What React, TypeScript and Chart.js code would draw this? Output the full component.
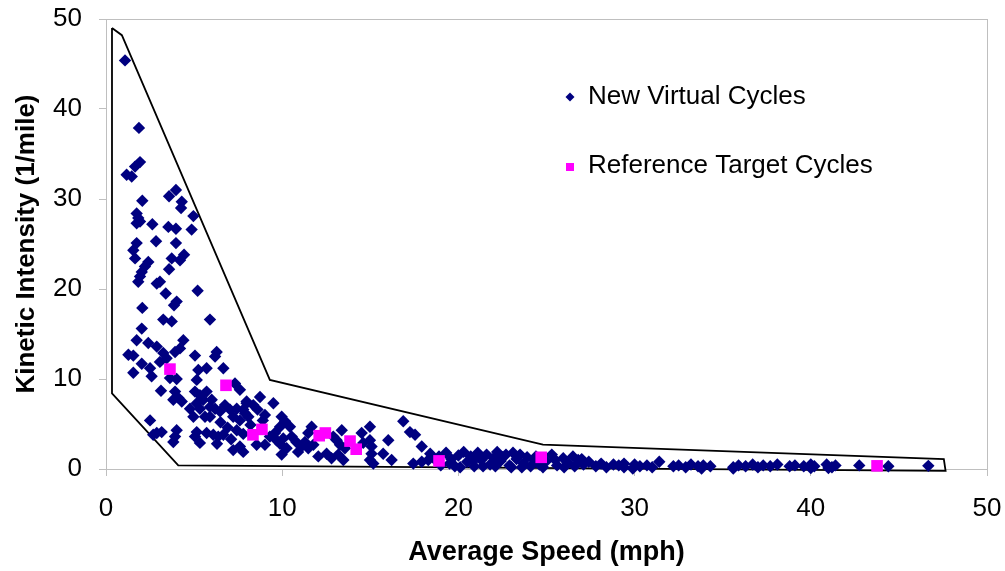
import { useEffect, useRef } from "react";
import { Chart, registerables } from "chart.js";

Chart.register(...registerables);

const FONT = '"Liberation Sans", Arial, Helvetica, sans-serif';
const NAVY = "#000080";
const MAGENTA = "#FF00FF";
const AXIS_GRAY = "#BFBFBF";

// Axis ranges and tick spacing (mph / 1/mile)
const speedRange = [0, 50];
const intensityRange = [0, 50];
const tickStep = 10;

// Generated driving cycles: [average speed (mph), kinetic intensity (1/mile)]
const newVirtualCycles: [number, number][] = [
  [1.08, 45.4], [1.87, 37.9], [1.93, 34.1], [1.65, 33.6], [1.17, 32.7], [1.46, 32.5],
  [3.97, 31.0], [3.58, 30.3], [4.3, 29.7], [4.26, 29.0], [2.06, 29.8],
  [1.74, 28.4], [1.83, 27.9], [1.93, 27.5], [1.74, 27.3], [4.96, 28.1], [2.63, 27.2],
  [3.54, 26.9], [3.97, 26.7], [4.86, 26.6], [2.84, 25.3], [1.74, 25.1], [1.55, 24.3],
  [1.65, 23.4], [3.97, 25.1], [3.73, 23.4], [4.2, 23.2], [4.43, 23.8], [2.4, 23.0],
  [2.21, 22.5], [2.03, 21.9], [1.93, 21.4], [1.83, 20.8], [3.58, 22.2], [2.88, 20.6],
  [3.06, 20.8], [3.39, 19.5], [5.2, 19.8], [4.01, 18.6], [3.86, 18.2], [2.06, 17.9],
  [3.25, 16.6], [3.73, 16.4], [5.9, 16.6], [2.03, 15.6],
  [1.74, 14.3], [2.4, 14.0], [2.88, 13.6], [4.39, 14.3], [4.2, 13.4], [3.92, 13.0],
  [1.27, 12.7], [1.55, 12.6], [3.25, 12.9], [3.44, 12.3], [3.06, 11.9], [5.05, 12.6],
  [6.28, 13.0], [6.19, 12.5], [2.03, 11.7], [2.5, 11.2], [2.59, 10.3], [1.55, 10.7],
  [5.24, 11.0], [5.71, 11.2], [5.15, 9.9], [6.66, 11.2], [3.63, 10.1], [4.01, 10.0],
  [3.12, 8.7], [7.32, 9.5], [7.6, 8.8], [3.92, 8.6], [4.11, 7.9], [4.3, 7.5], [3.82, 7.7],
  [5.05, 8.6], [5.33, 8.2], [5.71, 8.6], [5.52, 7.7], [5.15, 7.3], [4.77, 6.7], [4.96, 5.8],
  [5.33, 6.7], [6.0, 7.7], [5.9, 6.9], [6.19, 6.7], [6.47, 6.4], [5.9, 5.8],
  [6.75, 7.1], [7.04, 6.6], [7.42, 6.7], [7.98, 7.3], [7.89, 6.2], [7.22, 5.8],
  [2.5, 5.4], [2.88, 4.0], [3.16, 4.1], [2.68, 3.8], [4.01, 4.3], [3.92, 3.6], [3.82, 3.0],
  [5.15, 4.1], [5.05, 3.6], [5.33, 2.9], [5.71, 4.0], [6.09, 3.8], [6.37, 3.6], [6.66, 3.8],
  [5.62, 5.8], [7.42, 4.3], [7.6, 2.5], [7.79, 1.9], [7.22, 2.1], [7.79, 3.9],
  [6.5, 5.2], [6.9, 4.6], [7.1, 3.3], [8.2, 4.9], [8.9, 5.4], [9.3, 3.6], [8.6, 6.6],
  [10.8, 3.0], [10.9, 1.9], [6.3, 2.8],
  [8.74, 8.0], [8.36, 7.1], [7.98, 7.5], [9.5, 7.3], [9.02, 6.0], [7.79, 6.6], [8.08, 5.8],
  [7.6, 5.4], [9.97, 5.8], [10.16, 5.3], [9.88, 4.7], [10.44, 4.7],
  [8.55, 2.7], [9.02, 2.7], [9.59, 4.0], [9.68, 3.2], [9.88, 2.8], [10.06, 3.4],
  [10.54, 3.6], [10.25, 2.3], [9.97, 1.6], [11.67, 4.7], [11.48, 4.0], [11.29, 3.0],
  [11.1, 2.5], [11.48, 2.3], [11.77, 2.7], [12.05, 1.4], [12.52, 1.7], [12.8, 1.2],
  [13.18, 1.6], [13.47, 1.0], [12.9, 3.6], [13.38, 4.3], [13.09, 3.2], [13.28, 2.7],
  [13.56, 2.3], [14.51, 4.0], [14.98, 4.7], [14.6, 2.9], [14.98, 3.2], [15.07, 2.5],
  [15.07, 1.7], [14.98, 1.0], [15.17, 0.6], [16.02, 3.2], [15.73, 1.7], [16.21, 1.0],
  [16.87, 5.3], [17.25, 4.1], [17.54, 3.8], [17.92, 2.5], [17.44, 0.6], [17.92, 0.8],
  [18.29, 1.0],
  [18.4, 1.7], [18.7, 1.0], [19.0, 0.4], [19.3, 1.8], [19.6, 1.1], [19.8, 0.3], [20.0, 1.5],
  [20.3, 1.9], [20.5, 0.8], [20.7, 1.4], [20.9, 0.3], [21.1, 1.8], [21.3, 1.0], [21.6, 1.6],
  [21.8, 0.5], [22.0, 1.2], [22.2, 1.9], [22.4, 0.9], [22.7, 1.6], [22.9, 0.4], [23.1, 1.8],
  [23.3, 1.1], [23.5, 1.6], [23.7, 0.6], [23.9, 1.3], [24.1, 0.3], [24.3, 1.0], [24.6, 0.5],
  [25.0, 0.9], [25.3, 1.6], [25.6, 0.4], [25.95, 1.2], [26.2, 0.7], [26.5, 1.4], [26.8, 1.0],
  [27.1, 0.5], [27.4, 0.8], [27.8, 0.3], [28.1, 0.6], [28.4, 0.2], [28.8, 0.5], [29.1, 0.4],
  [29.4, 0.6], [29.4, 0.2], [18.9, 1.4], [19.5, 0.6], [20.1, 0.2], [20.9, 1.0], [21.4, 0.3],
  [22.1, 0.3], [22.5, 1.3], [23.0, 0.2], [23.6, 0.2], [24.4, 1.4], [24.8, 0.2], [25.5, 1.0],
  [26.0, 0.2], [26.6, 0.3], [27.0, 1.1],
  [30.0, 0.5], [30.3, 0.3], [30.7, 0.4], [31.0, 0.2], [31.4, 0.8], [32.2, 0.3], [32.5, 0.4],
  [32.9, 0.2], [33.2, 0.5], [33.6, 0.3], [33.9, 0.4], [34.3, 0.3], [35.6, 0.2], [35.9, 0.4],
  [36.3, 0.3], [36.7, 0.5], [37.0, 0.2], [37.3, 0.4], [37.7, 0.3], [38.1, 0.5], [38.8, 0.3],
  [39.1, 0.4], [39.6, 0.3], [40.0, 0.5], [40.2, 0.3], [40.9, 0.5], [41.2, 0.2], [41.4, 0.4],
  [42.75, 0.4], [44.4, 0.3], [46.67, 0.35], [29.9, 0.05], [33.8, 0.05], [35.6, 0.05],
  [40.0, 0.1], [41.0, 0.1],
];

// Standard reference cycles
const referenceTargetCycles: [number, number][] = [
  [3.63, 11.1], [6.81, 9.3], [8.34, 3.8], [8.85, 4.4], [12.1, 3.7], [12.45, 4.0],
  [13.85, 3.1], [14.2, 2.2], [18.9, 0.9], [24.7, 1.3], [43.76, 0.35],
];

// Boundary enclosing the generated cycles (closed polygon)
const boundaryPolygon: [number, number][] = [
  [0.34, 49.0], [0.9, 48.2], [9.3, 9.9], [24.8, 2.7], [47.55, 1.1], [47.65, -0.2],
  [4.1, 0.4], [0.34, 8.4], [0.34, 49.0],
];

const toPoints = (arr: [number, number][]) => arr.map(([x, y]) => ({ x, y }));

const plotFrame = {
  id: "plotFrame",
  beforeDatasetsDraw(chart: any) {
    const { ctx, chartArea } = chart;
    ctx.save();
    ctx.strokeStyle = AXIS_GRAY;
    ctx.lineWidth = 1;
    ctx.strokeRect(
      Math.round(chartArea.left) + 0.5,
      Math.round(chartArea.top) + 0.5,
      Math.round(chartArea.right - chartArea.left),
      Math.round(chartArea.bottom - chartArea.top)
    );
    ctx.restore();
  },
};

const insideLegend = {
  id: "insideLegend",
  afterDatasetsDraw(chart: any) {
    const { ctx } = chart;
    const rows = [
      { ds: chart.data.datasets[0], cy: 97, baseline: 104 },
      { ds: chart.data.datasets[1], cy: 167, baseline: 173 },
    ];
    ctx.save();
    for (const r of rows) {
      const mx = 570;
      ctx.fillStyle = r.ds.backgroundColor;
      if (r.ds.pointStyle === "rectRot") {
        const h = 4.5;
        ctx.beginPath();
        ctx.moveTo(mx, r.cy - h);
        ctx.lineTo(mx + h, r.cy);
        ctx.lineTo(mx, r.cy + h);
        ctx.lineTo(mx - h, r.cy);
        ctx.closePath();
        ctx.fill();
      } else {
        ctx.fillRect(mx - 4, r.cy - 4, 8, 8);
      }
      ctx.fillStyle = "#000";
      ctx.font = `26px ${FONT}`;
      ctx.textAlign = "left";
      ctx.textBaseline = "alphabetic";
      ctx.fillText(r.ds.label, 588, r.baseline);
    }
    ctx.restore();
  },
};

export default function App() {
  const canvasRef = useRef<HTMLCanvasElement | null>(null);

  useEffect(() => {
    const canvas = canvasRef.current;
    if (!canvas) return;
    const chart = new Chart(canvas, {
      type: "scatter",
      data: {
        datasets: [
          {
            label: "New Virtual Cycles",
            data: toPoints(newVirtualCycles),
            pointStyle: "rectRot",
            pointRadius: 6.2,
            borderWidth: 0,
            backgroundColor: NAVY,
            borderColor: NAVY,
            order: 2,
            clip: false,
          } as any,
          {
            label: "Reference Target Cycles",
            data: toPoints(referenceTargetCycles),
            pointStyle: "rect",
            pointRadius: 8.2,
            borderWidth: 0,
            backgroundColor: MAGENTA,
            borderColor: MAGENTA,
            order: 1,
            clip: false,
          } as any,
          {
            label: "Boundary",
            data: toPoints(boundaryPolygon),
            showLine: true,
            pointRadius: 0,
            borderColor: "#000000",
            backgroundColor: "#000000",
            borderWidth: 1.8,
            tension: 0,
            order: 3,
            clip: false,
          } as any,
        ],
      },
      options: {
        responsive: false,
        animation: false,
        events: [],
        layout: { padding: { left: 0, right: 18, top: 19, bottom: 0 } },
        plugins: {
          legend: { display: false },
          tooltip: { enabled: false },
        },
        scales: {
          x: {
            type: "linear",
            min: speedRange[0],
            max: speedRange[1],
            afterFit: (scale: any) => {
              scale.height = 102;
              scale.paddingLeft = 0;
              scale.paddingRight = 0;
            },
            ticks: {
              stepSize: tickStep,
              autoSkip: false,
              maxRotation: 0,
              padding: 17,
              color: "#000",
              font: { family: FONT, size: 26 },
            },
            grid: {
              drawOnChartArea: false,
              drawTicks: true,
              tickLength: 7,
              color: AXIS_GRAY,
            },
            border: { display: true, color: AXIS_GRAY },
            title: {
              display: true,
              text: "Average Speed (mph)",
              color: "#000",
              font: { family: FONT, size: 27, weight: "bold" },
              padding: { top: 0, bottom: 2 },
            },
          },
          y: {
            type: "linear",
            min: intensityRange[0],
            max: intensityRange[1],
            afterFit: (scale: any) => {
              scale.width = 106;
              scale.paddingTop = 0;
              scale.paddingBottom = 0;
            },
            ticks: {
              stepSize: tickStep,
              autoSkip: false,
              padding: 17,
              color: "#000",
              font: { family: FONT, size: 26 },
            },
            grid: {
              drawOnChartArea: false,
              drawTicks: true,
              tickLength: 7,
              color: AXIS_GRAY,
            },
            border: { display: true, color: AXIS_GRAY },
            title: {
              display: true,
              text: "Kinetic Intensity (1/mile)",
              color: "#000",
              font: { family: FONT, size: 26, weight: "bold" },
              padding: { top: 11, bottom: 0 },
            },
          },
        },
      } as any,
      plugins: [plotFrame, insideLegend],
    });
    return () => chart.destroy();
  }, []);

  return (
    <div style={{ position: "fixed", left: 0, top: 0, width: 1005, height: 571, background: "#fff" }}>
      <canvas ref={canvasRef} width={1005} height={571} style={{ display: "block" }} />
    </div>
  );
}
